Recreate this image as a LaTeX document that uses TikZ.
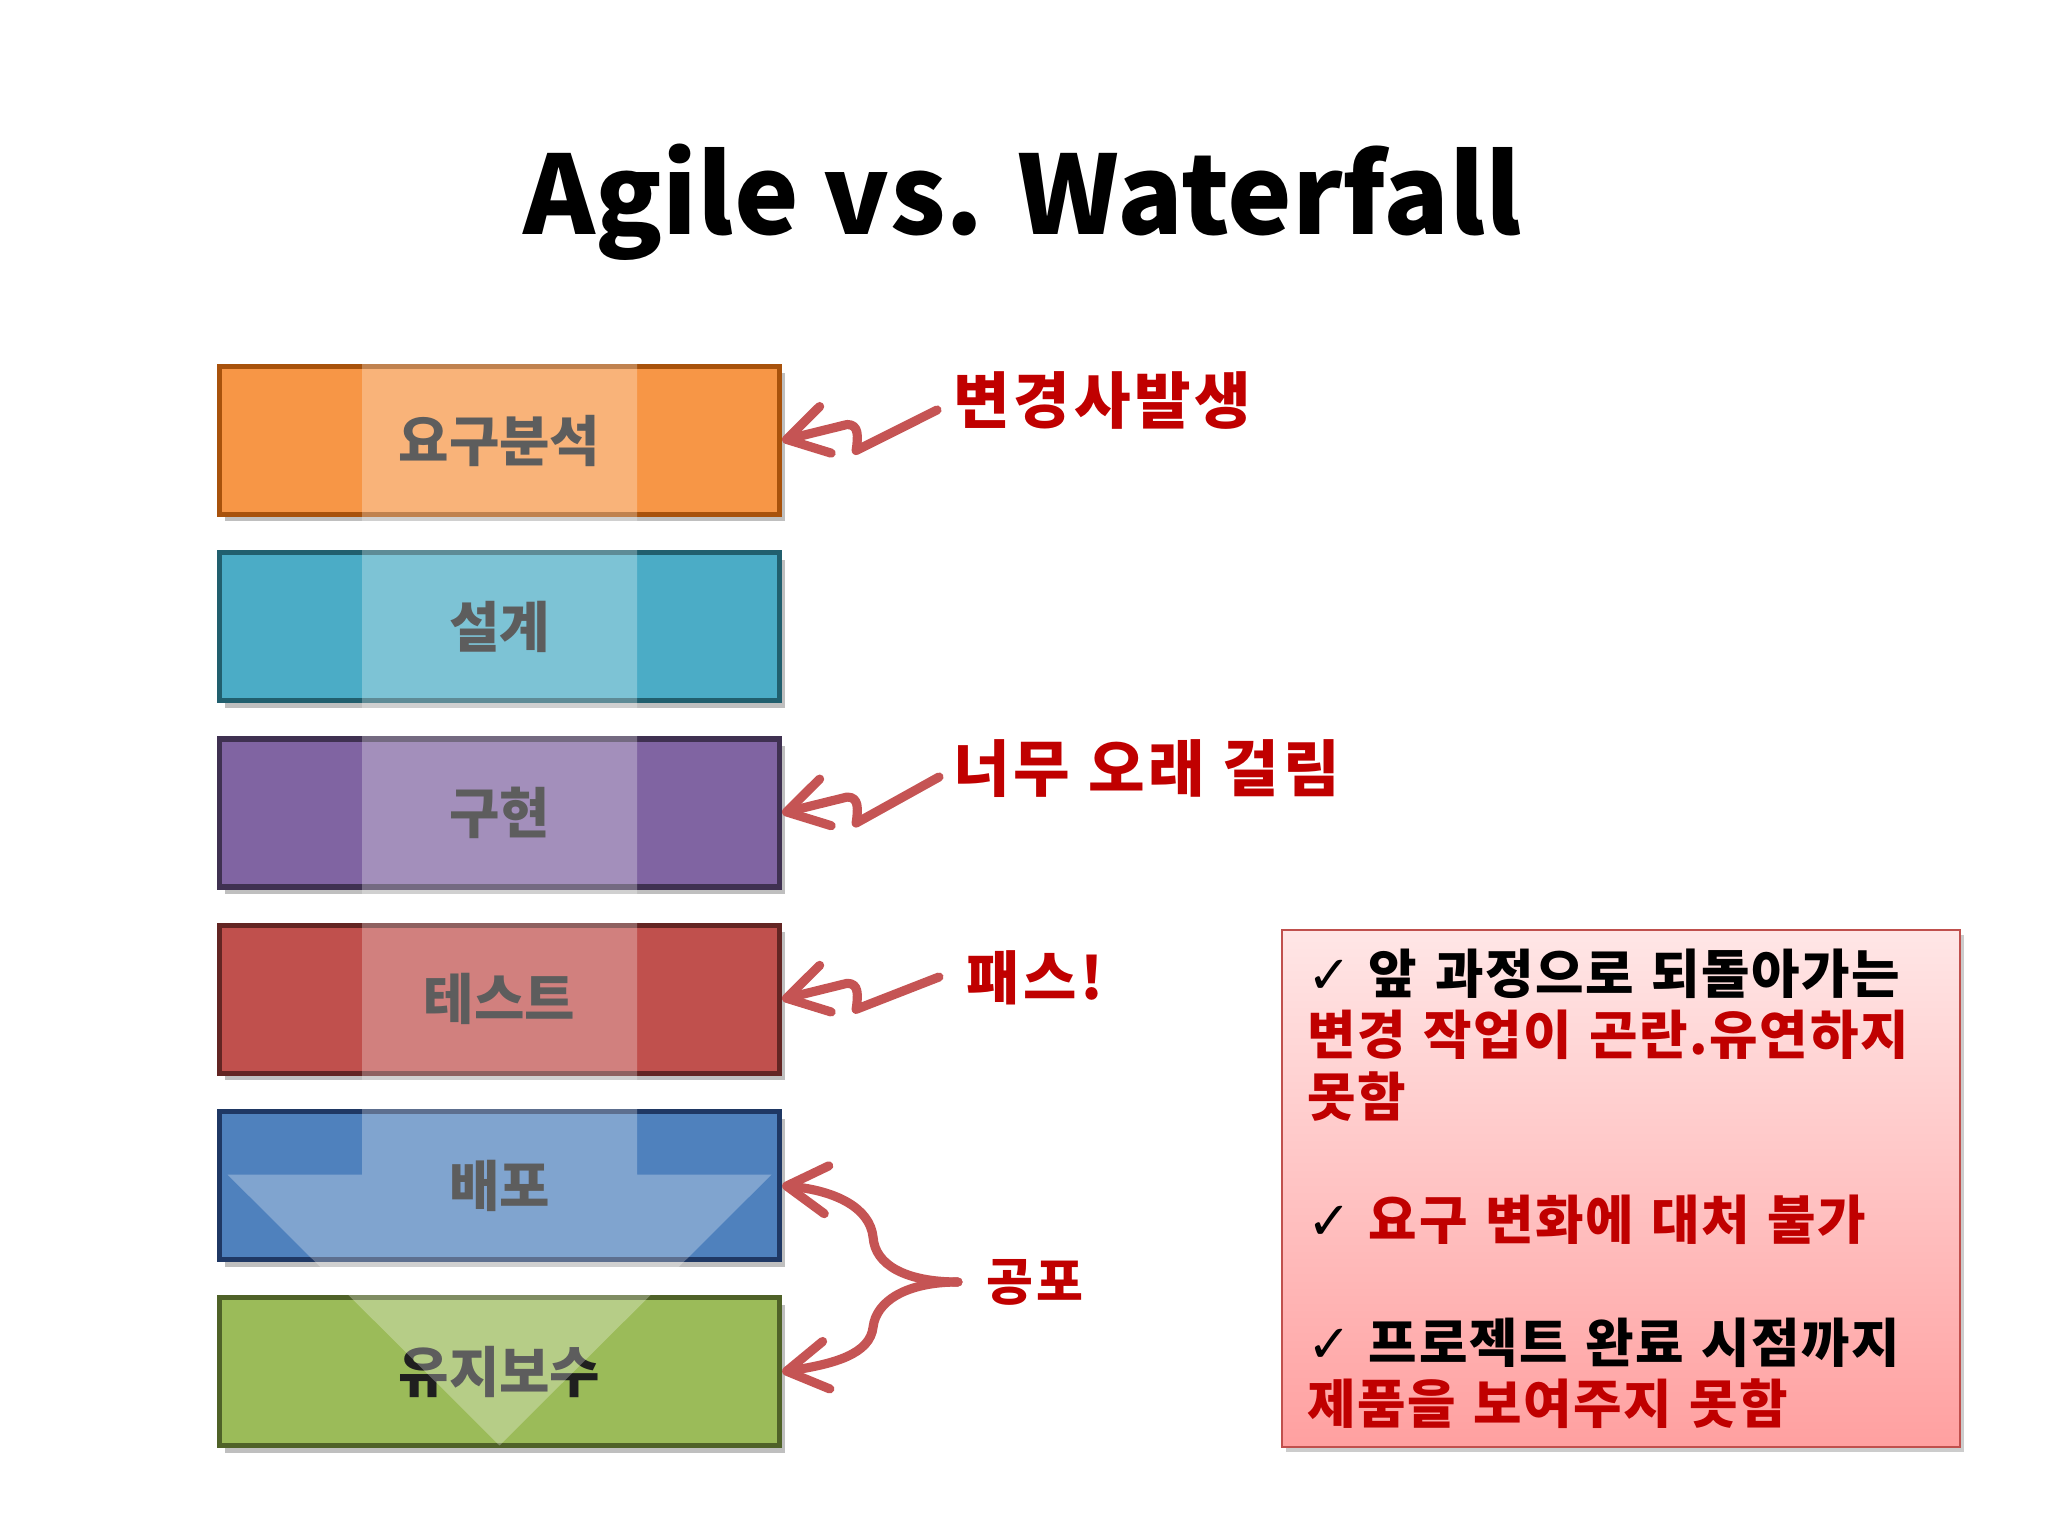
\documentclass[tikz,border=0pt]{standalone}
\usepackage{fontspec}
\usepackage{tikz}
\usetikzlibrary{arrows.meta, positioning, calc, shadows}
\setmainfont{Noto Sans CJK KR}
\newfontfamily\notefont[WordSpace=2, LetterSpace=3]{Noto Sans CJK KR}
\newfontfamily\memofont[LetterSpace=6]{Noto Sans CJK KR}
\newfontfamily\checkfont{DejaVu Sans}
\definecolor{reqfill}{HTML}{F79646}
\definecolor{reqline}{HTML}{A8520C}
\definecolor{dsgfill}{HTML}{4BACC6}
\definecolor{dsgline}{HTML}{215F6E}
\definecolor{impfill}{HTML}{8064A2}
\definecolor{impline}{HTML}{3F3151}
\definecolor{tstfill}{HTML}{C0504D}
\definecolor{tstline}{HTML}{632523}
\definecolor{depfill}{HTML}{4F81BD}
\definecolor{depline}{HTML}{1F3864}
\definecolor{mntfill}{HTML}{9BBB59}
\definecolor{mntline}{HTML}{4F6228}
\definecolor{handred}{HTML}{C55454}
\definecolor{labelred}{HTML}{C00000}
\definecolor{notetop}{HTML}{FFE6E6}
\definecolor{notebot}{HTML}{FFA0A0}
\definecolor{noteline}{HTML}{C0504D}

\begin{document}
\begin{tikzpicture}[
    node distance=0.33cm, % gap between the stages
    stage/.style={
        rectangle,
        draw=#1line,
        fill=#1fill,
        line width=1.5pt,
        minimum width=5.60cm,
        minimum height=1.48cm,
        text=black!88,
        font=\bfseries\fontsize{15.6}{18}\selectfont,
        drop shadow={shadow xshift=0.05cm, shadow yshift=-0.07cm, fill=black, opacity=0.25}
    },
    memo/.style={anchor=west, inner sep=0pt, text=labelred, font=\memofont\bfseries\fontsize{17.5}{20}\selectfont},
    squiggle/.style={draw=handred, line width=2.6pt, line cap=round, line join=round,
        -{Straight Barb[length=0.40cm, width=0.48cm, round]}},
    flow/.style={fill=white, fill opacity=0.28},
    note/.style={
        draw=noteline,
        line width=0.7pt,
        top color=notetop,
        bottom color=notebot,
        minimum width=6.78cm,
        minimum height=5.17cm,
        text width=6.28cm,
        inner xsep=0.25cm,
        align=left,
        font=\notefont\bfseries\fontsize{15}{17.5}\selectfont,
        drop shadow={shadow xshift=0.04cm, shadow yshift=-0.05cm, fill=black, opacity=0.2}
    }
]

% ========== page ==========
\fill[white] (0,0) rectangle (20.48,-15.36);
\useasboundingbox (0,0) rectangle (20.48,-15.36);

\node[font=\bfseries\fontsize{31}{36}\selectfont, anchor=base] (title) at (10.23,-2.35) {Agile vs. Waterfall};

% ========== waterfall stages ==========
\node[stage=req] (req) at (4.995,-4.405) {요구분석};
\node[stage=dsg, below=of req] (dsg) {설계};
\node[stage=imp, below=of dsg] (imp) {구현};
\node[stage=tst, below=of imp] (tst) {테스트};
\node[stage=dep, below=of tst] (dep) {배포};
\node[stage=mnt, below=of dep] (mnt) {유지보수};

% big downward arrow over the stages
\fill[flow] ($(req.north)+(-1.375,0)$) -- ($(req.north)+(1.375,0)$)
    -- ($(dep.center)+(1.375,0.11)$) -- ($(dep.center)+(2.72,0.11)$)
    -- ($(mnt.south)+(0,0.03)$)
    -- ($(dep.center)+(-2.72,0.11)$) -- ($(dep.center)+(-1.375,0.11)$) -- cycle;

% ========== remarks ==========
\node[memo] (chg) at (9.53,-4.00) {변경사발생};
\node[memo] (slow) at (9.53,-7.69) {너무 오래 걸림};
\node[memo, font=\memofont\bfseries\fontsize{16.5}{20}\selectfont] (pass) at (9.66,-9.78) {패스!};
\node[memo, font=\memofont\bfseries\fontsize{14.5}{20}\selectfont] (fear) at (9.86,-12.82) {공포};

\draw[squiggle] ($(chg.west)+(-0.16,-0.10)$) -- ($(req.east)+(0.74,-0.10)$)
    .. controls +(0.02,0.14) and +(0.12,0) .. ($(req.east)+(0.65,0.16)$) -- (req.east);
\draw[squiggle] ($(slow.west)+(-0.14,-0.08)$) -- ($(imp.east)+(0.74,-0.10)$)
    .. controls +(0.02,0.14) and +(0.12,0) .. ($(imp.east)+(0.65,0.16)$) -- (imp.east);
\draw[squiggle] ($(pass.west)+(-0.27,0.01)$) -- ($(tst.east)+(0.74,-0.10)$)
    .. controls +(0.02,0.14) and +(0.12,0) .. ($(tst.east)+(0.65,0.16)$) -- (tst.east);

\coordinate (fj) at ($(fear.west)+(-0.28,0)$);
\draw[squiggle] (fj) .. controls +(-0.53,0) and +(0.02,-0.27) .. ($(dep.east)+(0.91,-0.52)$)
    .. controls +(-0.03,0.30) and +(0.53,-0.05) .. (dep.east);
\draw[squiggle] (fj) .. controls +(-0.53,0) and +(0.03,0.25) .. ($(mnt.east)+(0.91,0.45)$)
    .. controls +(-0.03,-0.27) and +(0.53,0.08) .. (mnt.east);

% ========== drawbacks ==========
\node[note, anchor=north west] (cons) at (12.81,-9.29) {%
    {\checkfont ✓} 앞 과정으로 되돌아가는\\
    \textcolor{labelred}{변경 작업이 곤란.유연하지}\\
    \textcolor{labelred}{못함}\\[17.5pt]
    {\checkfont ✓} \textcolor{labelred}{요구 변화에 대처 불가}\\[17.5pt]
    {\checkfont ✓} 프로젝트 완료 시점까지\\
    \textcolor{labelred}{제품을 보여주지 못함}
};

\end{tikzpicture}
\end{document}
